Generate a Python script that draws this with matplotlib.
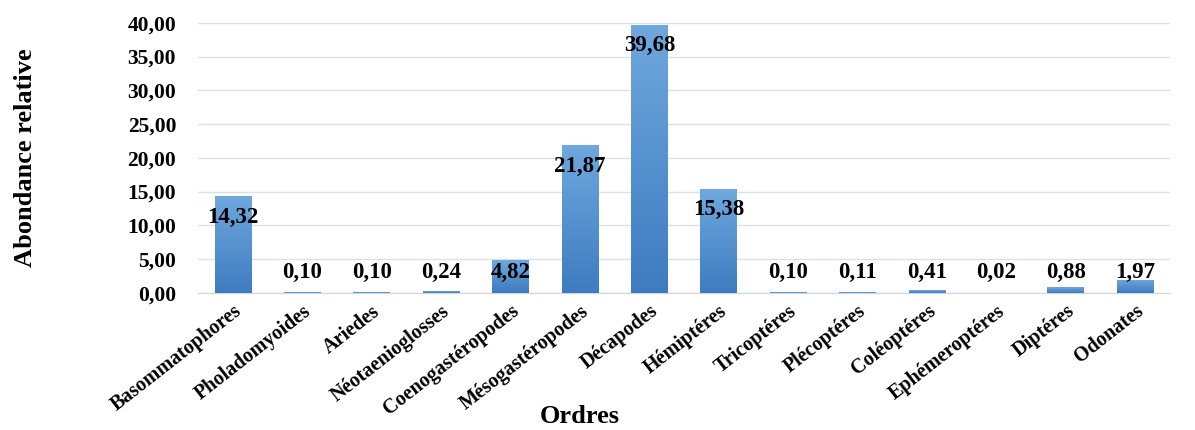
import matplotlib.pyplot as plt
import numpy as np
from matplotlib.colors import LinearSegmentedColormap
from matplotlib.ticker import FuncFormatter

ordres = ['Basommatophores', 'Pholadomyoides', 'Ariedes', 'Néotaenioglosses',
          'Coenogastéropodes', 'Mésogastéropodes', 'Décapodes', 'Hémiptéres',
          'Tricoptéres', 'Plécoptéres', 'Coléoptéres', 'Ephémeroptéres',
          'Diptéres', 'Odonates']
abondance = [14.32, 0.10, 0.10, 0.24, 4.82, 21.87, 39.68, 15.38,
             0.10, 0.11, 0.41, 0.02, 0.88, 1.97]

plt.rcParams['font.family'] = ['Liberation Serif', 'DejaVu Serif']
plt.rcParams['font.weight'] = 'bold'

fig = plt.figure(figsize=(11.95, 4.3), dpi=100)
ax = fig.add_axes([0.166, 0.319, 0.813, 0.628])

x = np.arange(len(ordres))
bars = ax.bar(x, abondance, width=0.53, color='#5B9BD5', zorder=2)

# degrade bleu dans chaque barre
cmap = LinearSegmentedColormap.from_list('bleu', ['#3D7CC0', '#6FA8DE'])
grad = np.linspace(0, 1, 256).reshape(-1, 1)
for b in bars:
    x0, w, h = b.get_x(), b.get_width(), b.get_height()
    im = ax.imshow(grad, cmap=cmap, origin='lower', aspect='auto',
                   extent=[x0, x0 + w, 0, h], zorder=3)
    im.set_clip_path(b)

for xi, v in zip(x, abondance):
    ax.text(xi, max(v - 3.1, 3.0), f'{v:.2f}'.replace('.', ','),
            ha='center', va='center', fontsize=16.5, fontweight='bold', zorder=4)

ax.set_xlim(-0.5, len(ordres) - 0.5)
ax.set_ylim(0, 40)
ax.set_yticks(np.arange(0, 41, 5))
ax.yaxis.set_major_formatter(FuncFormatter(lambda v, p: f'{v:.2f}'.replace('.', ',')))
ax.set_xticks(x)
ax.set_xticklabels(ordres, rotation=38, ha='right', rotation_mode='anchor', fontsize=14.5)
ax.tick_params(axis='y', labelsize=15.5, length=0, pad=16)
ax.tick_params(axis='x', length=0, pad=6)

ax.grid(axis='y', color='#D9E1EA', linewidth=1, zorder=0)
ax.set_axisbelow(True)
for s in ['top', 'right', 'left']:
    ax.spines[s].set_visible(False)
ax.spines['bottom'].set_color('#D0D7E0')

ax.set_ylabel('Abondance relative', fontsize=19, fontweight='bold')
ax.yaxis.set_label_coords(-0.166, 0.5)
ax.set_xlabel('Ordres', fontsize=19, fontweight='bold')
ax.xaxis.set_label_coords(0.393, -0.415)

fig.savefig('out.png', dpi=100)
